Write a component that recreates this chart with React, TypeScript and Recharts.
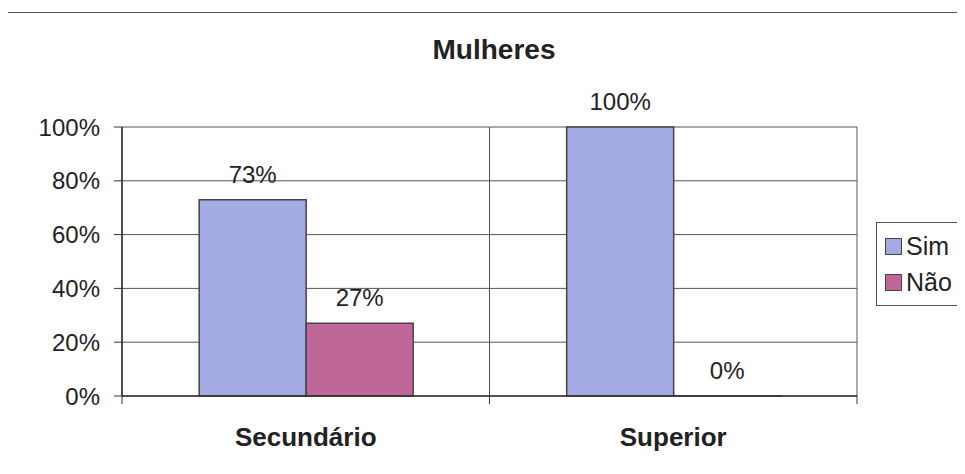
import React from "react";
import { BarChart, Bar, XAxis, YAxis, CartesianGrid, Legend } from "recharts";

const categories = ["Secundário", "Superior"];
const seriesNames = ["Sim", "Não"];
const sim = [0.73, 1.0];
const nao = [0.27, 0];
const yTicks = [0, 0.2, 0.4, 0.6, 0.8, 1];

const FONT = "'Liberation Sans', Arial, Helvetica, sans-serif";
const SIM_COLOR = "#a3aae2";
const NAO_COLOR = "#c0679a";

const data = categories.map((c, i) => ({ name: c, Sim: sim[i], Não: nao[i] }));

const pct = (v: any) => `${Math.round(Number(v) * 100)}%`;

function LegendBox({ payload }: any) {
  const items = [...(payload || [])].sort(
    (a: any, b: any) => seriesNames.indexOf(a.value) - seriesNames.indexOf(b.value)
  );
  return (
    <div
      style={{
        border: "1px solid #555",
        background: "#fff",
        padding: "5px 0 5px 8px",
        fontFamily: FONT,
        fontSize: 25,
        color: "#222",
        width: 120,
      }}
    >
      {items.map((p: any) => (
        <div key={p.value} style={{ display: "flex", alignItems: "center", height: 36 }}>
          <span
            style={{
              display: "inline-block",
              width: 15,
              height: 15,
              background: p.color,
              border: "1px solid #444",
              marginRight: 4,
            }}
          />
          {p.value}
        </div>
      ))}
    </div>
  );
}

// value label drawn above each bar
function TopLabel(props: any) {
  const { x, y, width, value } = props;
  if (value === undefined || value === null) return null;
  const v = Array.isArray(value) ? value[1] - value[0] : value;
  return (
    <text
      x={Number(x) + Number(width) / 2}
      y={Number(y) - 17}
      textAnchor="middle"
      fill="#222"
      fontSize={24}
      fontFamily={FONT}
    >
      {pct(v)}
    </text>
  );
}

// category label with small tick marks on the band edges (excel style)
function CategoryTick(props: any) {
  const { x, y, payload, index, visibleTicksCount } = props;
  const half = Number(payload?.offset) || 0;
  const axisY = Number(y) - 32;
  const isLast = index === (visibleTicksCount ?? categories.length) - 1;
  return (
    <g>
      {half > 0 && (
        <line x1={x - half} x2={x - half} y1={axisY} y2={axisY + 8} stroke="#333" />
      )}
      {half > 0 && isLast && (
        <line x1={x + half} x2={x + half} y1={axisY} y2={axisY + 8} stroke="#333" />
      )}
      <text
        x={x}
        y={y}
        dy="0.71em"
        textAnchor="middle"
        fill="#222"
        fontSize={26}
        fontWeight="bold"
        fontFamily={FONT}
      >
        {payload.value}
      </text>
    </g>
  );
}

export default function App() {
  return (
    <div
      style={{
        position: "relative",
        width: 965,
        height: 474,
        marginLeft: -8,
        marginTop: -8,
        overflow: "hidden",
        background: "#fff",
        fontFamily: FONT,
      }}
    >
      {/* page frame */}
      <div
        style={{
          position: "absolute",
          left: 7,
          top: 12,
          width: 2000,
          height: 1000,
          borderTop: "1px solid #555",
          borderLeft: "1px solid #555",
        }}
      />
      <div
        style={{
          position: "absolute",
          left: 394,
          top: 34,
          width: 200,
          textAlign: "center",
          fontWeight: "bold",
          fontSize: 28,
          color: "#222",
        }}
      >
        Mulheres
      </div>
      <div style={{ position: "absolute", left: 0, top: 0 }}>
        <BarChart
          width={965}
          height={474}
          data={data}
          margin={{ top: 127, right: 108, bottom: 18, left: 0 }}
          barCategoryGap="21%"
          barGap={0}
        >
          <CartesianGrid
            stroke="#555"
            strokeWidth={1}
            verticalCoordinatesGenerator={({ offset }: any) => [
              offset.left,
              offset.left + offset.width / 2,
              offset.left + offset.width,
            ]}
          />
          <XAxis
            dataKey="name"
            height={60}
            axisLine={{ stroke: "#333", strokeWidth: 1.5 }}
            tickLine={false}
            tickSize={8}
            tickMargin={24}
            tick={<CategoryTick />}
          />
          <YAxis
            width={122}
            domain={[0, 1]}
            ticks={yTicks}
            tickFormatter={pct}
            axisLine={{ stroke: "#333", strokeWidth: 1.5 }}
            tickLine={{ stroke: "#333" }}
            tickSize={8}
            tickMargin={14}
            tick={{ fill: "#222", fontSize: 24, fontFamily: FONT }}
          />
          <Legend
            layout="horizontal"
            align="center"
            verticalAlign="middle"
            content={<LegendBox />}
            wrapperStyle={{ left: 876, top: 222, width: 120 }}
          />
          <Bar
            dataKey="Sim"
            fill={SIM_COLOR}
            stroke="#444"
            strokeWidth={1.5}
            minPointSize={0.01}
            isAnimationActive={false}
            label={<TopLabel />}
          />
          <Bar
            dataKey="Não"
            fill={NAO_COLOR}
            stroke="#444"
            strokeWidth={1.5}
            minPointSize={0.01}
            isAnimationActive={false}
            label={<TopLabel />}
          />
        </BarChart>
      </div>
    </div>
  );
}
